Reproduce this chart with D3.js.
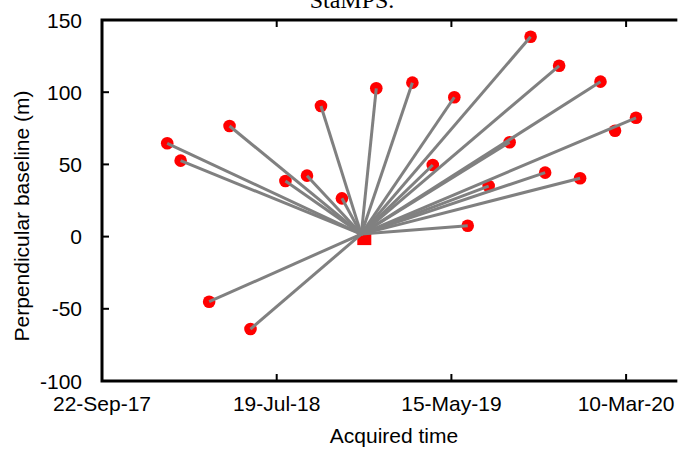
<!DOCTYPE html>
<html>
<head>
<meta charset="utf-8">
<script src="https://cdn.jsdelivr.net/npm/d3@7"></script>
<style>
  html, body { margin: 0; padding: 0; background: #fff; }
  svg { display: block; }
</style>
</head>
<body>
<svg id="chart" width="678" height="450"></svg>
<script>
// ---- data ----
const masterDate = "2018-12-13";
const masterBaseline = 0;
const slaveDates = [
  "2018-01-12", "2018-02-04", "2018-03-25", "2018-04-29", "2018-06-04",
  "2018-08-03", "2018-09-09", "2018-10-03", "2018-11-08", "2019-01-06",
  "2019-03-09", "2019-04-13", "2019-05-20", "2019-06-12", "2019-07-18",
  "2019-08-23", "2019-09-28", "2019-10-23", "2019-11-16", "2019-12-22",
  "2020-01-26", "2020-02-20", "2020-03-27"
];
const slaveBaselines = [
  64.6, 52.6, -45.1, 76.6, -64.0,
  38.5, 42.2, 90.4, 26.5, 102.7,
  106.6, 49.6, 96.5, 7.5, 35.0,
  65.3, 138.4, 44.3, 118.3, 40.4,
  107.3, 73.3, 82.3
];
// whether a connection line to the master is drawn
const slaveLinked = [
  true, true, true, true, true,
  true, true, true, true, true,
  true, true, true, true, true,
  true, true, true, true, true,
  true, false, true
];
const xTickLabels = ["22-Sep-17", "19-Jul-18", "15-May-19", "10-Mar-20"];
const xTickDates = ["2017-09-22", "2018-07-19", "2019-05-15", "2020-03-10"];
const yTicks = [-100, -50, 0, 50, 100, 150];

// ---- chart ----
(function () {
const parse = d3.utcParse("%Y-%m-%d");
const svg = d3.select("#chart");
const mLeft = 102, mTop = 20, mBottom = 381;
const x0 = parse("2017-09-22");
const xEndDate = parse("2020-06-06");
const x = d3.scaleUtc().domain([x0, parse("2020-03-10")]).range([mLeft, mLeft + 3 * 174.7]);
const mRight = x(xEndDate);
const y = d3.scaleLinear().domain([-100, 150]).range([mBottom, mTop]);

const font = "'Liberation Sans', Arial, Helvetica, sans-serif";
const fs = 21;

const slaves = slaveDates.map((d, i) => ({ date: parse(d), b: slaveBaselines[i], linked: slaveLinked[i] }));
const master = { date: parse(masterDate), b: masterBaseline };

const g = svg.append("g");

// master square
g.append("rect")
  .attr("x", x(master.date) - 7 + 2)
  .attr("y", y(master.b) - 7 + 1.5)
  .attr("width", 14).attr("height", 14)
  .attr("fill", "#ff0000");

// slave points
g.selectAll("circle.s").data(slaves).join("circle")
  .attr("class", "s")
  .attr("cx", d => x(d.date))
  .attr("cy", d => y(d.b))
  .attr("r", 6.3)
  .attr("fill", "#ff0000");

// lines
g.selectAll("line.c").data(slaves.filter(d => d.linked)).join("line")
  .attr("class", "c")
  .attr("x1", x(master.date) - 1).attr("y1", y(master.b) - 2.5)
  .attr("x2", d => x(d.date)).attr("y2", d => y(d.b))
  .attr("stroke", "#808080")
  .attr("stroke-width", 3);

// frame
const frame = svg.append("g");
frame.append("path")
  .attr("d", `M${mRight},${mTop}H${mLeft}V${mBottom}H${mRight}`)
  .attr("fill", "none").attr("stroke", "#000").attr("stroke-width", 3);

// x ticks (inward, bottom and top)
const xTicks = xTickDates.map(parse);
xTicks.slice(1).forEach(t => {
  frame.append("line").attr("x1", x(t)).attr("x2", x(t))
    .attr("y1", mBottom).attr("y2", mBottom - 7)
    .attr("stroke", "#000").attr("stroke-width", 2);
  frame.append("line").attr("x1", x(t)).attr("x2", x(t))
    .attr("y1", mTop).attr("y2", mTop + 7)
    .attr("stroke", "#000").attr("stroke-width", 2);
});
svg.append("g").selectAll("text").data(xTicks).join("text")
  .attr("x", d => x(d)).attr("y", 411)
  .attr("text-anchor", "middle")
  .attr("font-family", font).attr("font-size", fs)
  .text((d, i) => xTickLabels[i]);

// y ticks
yTicks.slice(1, -1).forEach(v => {
  frame.append("line").attr("x1", mLeft).attr("x2", mLeft + 7)
    .attr("y1", y(v)).attr("y2", y(v))
    .attr("stroke", "#000").attr("stroke-width", 2);
});
svg.append("g").selectAll("text").data(yTicks).join("text")
  .attr("x", 82).attr("y", d => y(d) + 7.5)
  .attr("text-anchor", "end")
  .attr("font-family", font).attr("font-size", fs)
  .text(d => d);

// axis titles
svg.append("text")
  .attr("x", 394).attr("y", 443)
  .attr("text-anchor", "middle")
  .attr("font-family", font).attr("font-size", fs)
  .text("Acquired time");
svg.append("text")
  .attr("transform", "translate(29,216) rotate(-90)")
  .attr("text-anchor", "middle")
  .attr("font-family", font).attr("font-size", fs)
  .text("Perpendicular baseline (m)");

// title (cut off at top, as in the source figure)
svg.append("text")
  .attr("x", 352).attr("y", 8)
  .attr("text-anchor", "middle")
  .attr("font-family", "'Liberation Serif', 'Times New Roman', serif")
  .attr("font-size", 24)
  .text("StaMPS.");
})();
</script>
</body>
</html>
